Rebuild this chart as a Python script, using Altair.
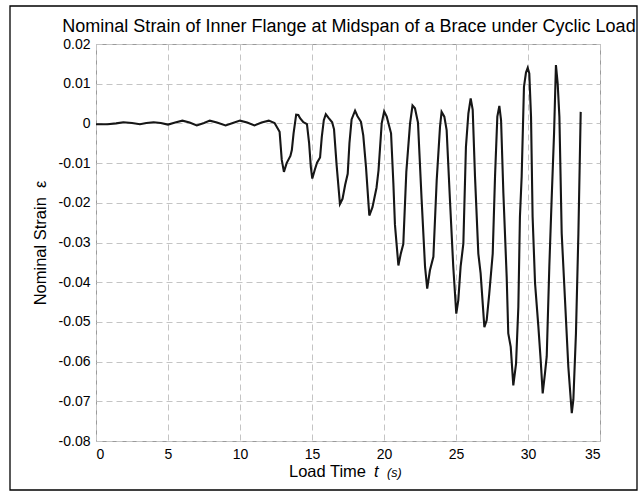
import altair as alt
import pandas as pd

# Load time (s)
time_s = [
    0.0, 0.8, 1.4, 1.9, 2.5, 3.05, 3.5, 4.0, 4.5, 5.0, 5.5, 6.0, 6.5, 7.0, 7.5, 7.9,
    8.4, 9.0, 9.5, 10.0, 10.5, 11.0, 11.5, 12.0, 12.4, 12.75, 12.9, 13.05, 13.24, 13.5,
    13.6, 13.72, 13.9, 14.05, 14.17, 14.4, 14.65, 14.8, 14.92, 15.02, 15.2, 15.35, 15.56,
    15.68, 15.82, 15.96, 16.15, 16.4, 16.53, 16.71, 16.94, 17.12, 17.3, 17.48, 17.6, 17.75,
    17.99, 18.16, 18.4, 18.56, 18.75, 18.98, 19.2, 19.48, 19.62, 19.84, 20.01, 20.19, 20.49,
    20.65, 20.76, 21.0, 21.16, 21.34, 21.55, 21.81, 21.98, 22.15, 22.36, 22.61, 22.85, 23.0,
    23.19, 23.43, 23.66, 23.89, 24.0, 24.19, 24.35, 24.58, 24.81, 25.02, 25.16, 25.32, 25.51,
    25.69, 25.86, 26.02, 26.16, 26.32, 26.55, 26.71, 26.97, 27.13, 27.31, 27.55, 27.71, 27.87,
    28.01, 28.13, 28.29, 28.52, 28.63, 28.80, 28.98, 29.17, 29.33, 29.44, 29.56, 29.72, 29.86,
    29.98, 30.09, 30.21, 30.32, 30.49, 30.72, 30.88, 31.02, 31.18, 31.30, 31.48, 31.64, 31.81,
    31.94, 32.06, 32.18, 32.34, 32.57, 32.80, 33.04, 33.15, 33.33, 33.50, 33.61, 33.66,
]

# Nominal strain
strain = [
    -0.0002, -0.0002, 0.0000, 0.0003, 0.0001, -0.0002, 0.0001, 0.0003, 0.0001, -0.0003, 0.0002,
    0.0007, 0.0002, -0.0005, 0.0001, 0.0007, 0.0002, -0.0005, 0.0001, 0.0007, 0.0002, -0.0005,
    0.0002, 0.0007, 0.0001, -0.0021, -0.0092, -0.0122, -0.0100, -0.0082, -0.0067, -0.0025,
    0.0022, 0.0021, 0.0013, 0.0003, -0.0002, -0.0050, -0.0110, -0.0139, -0.0116, -0.0099,
    -0.0086, -0.0034, 0.0008, 0.0023, 0.0014, 0.0003, -0.0015, -0.0105, -0.0203, -0.0190,
    -0.0155, -0.0127, -0.0050, 0.0010, 0.0032, 0.0018, 0.0004, -0.0030, -0.0110, -0.0232,
    -0.0211, -0.0162, -0.0118, 0.0000, 0.0030, 0.0017, -0.0025, -0.0150, -0.0255, -0.0358,
    -0.0329, -0.0304, -0.0122, 0.0000, 0.0045, 0.0038, 0.0002, -0.0190, -0.0361, -0.0416,
    -0.0370, -0.0336, -0.0143, -0.0008, 0.0029, 0.0017, -0.0017, -0.0193, -0.0361, -0.0479,
    -0.0445, -0.0361, -0.0303, -0.0059, 0.0025, 0.0063, 0.0034, -0.0134, -0.0328, -0.0378,
    -0.0513, -0.0496, -0.0429, -0.0328, -0.0134, 0.0017, 0.0044, 0.0008, -0.0176, -0.0387,
    -0.0529, -0.0563, -0.0660, -0.0605, -0.0462, -0.0235, -0.0134, 0.0092, 0.0128, 0.0140,
    0.0126, 0.0017, -0.0235, -0.0403, -0.0512, -0.0596, -0.0680, -0.0629, -0.0587, -0.0361,
    -0.0193, -0.0025, 0.0147, 0.0101, 0.0017, -0.0277, -0.0445, -0.0613, -0.0730, -0.0696,
    -0.0529, -0.0277, -0.0067, 0.0029,
]

x_ticks = [0, 5, 10, 15, 20, 25, 30, 35]
y_ticks = [0.02, 0.01, 0.0, -0.01, -0.02, -0.03, -0.04, -0.05, -0.06, -0.07, -0.08]

title_text = "Nominal Strain of Inner Flange at Midspan of a Brace under Cyclic Load"
y_title = "Nominal Strain\u00a0\u00a0\u03b5"

FONT = "Liberation Sans"

df = pd.DataFrame({"t": time_s, "strain": strain})
one = pd.DataFrame({"k": [0]})

W, H = 504, 397

line = alt.Chart(df).mark_line(color="#161616", strokeWidth=2.1).encode(
    x=alt.X("t:Q",
            scale=alt.Scale(domain=[0, 35], nice=False, zero=False),
            axis=alt.Axis(values=x_ticks, title=None, format="d")),
    y=alt.Y("strain:Q",
            scale=alt.Scale(domain=[-0.08, 0.02], nice=False, zero=False),
            axis=alt.Axis(values=y_ticks, title=y_title,
                          labelExpr="abs(datum.value) < 1e-9 ? '0' : (datum.value < 0 ? '-' : '') + format(abs(datum.value), '.2f')")),
)

frame = alt.Chart(one).mark_rect(filled=False, stroke="black", strokeWidth=1.3).encode(
    x=alt.value(-86), x2=alt.value(541), y=alt.value(-38), y2=alt.value(446)
)

title_mark = alt.Chart(one).mark_text(align="center", baseline="alphabetic", font=FONT,
                                      fontSize=18, color="black").encode(
    x=alt.value(W / 2 + 1), y=alt.value(-12), text=alt.value(title_text))

xt1 = alt.Chart(one).mark_text(align="left", baseline="alphabetic", font=FONT,
                               fontSize=16.5, color="black").encode(
    x=alt.value(193), y=alt.value(433), text=alt.value("Load Time"))
xt2 = alt.Chart(one).mark_text(align="left", baseline="alphabetic", font=FONT,
                               fontSize=16.5, fontStyle="italic", color="black").encode(
    x=alt.value(278), y=alt.value(433), text=alt.value("t"))
xt3 = alt.Chart(one).mark_text(align="left", baseline="alphabetic", font=FONT,
                               fontSize=12.5, fontStyle="italic", color="black").encode(
    x=alt.value(291), y=alt.value(433), text=alt.value("(s)"))

chart = alt.layer(frame, line, title_mark, xt1, xt2, xt3).properties(
    width=W, height=H,
    autosize=alt.AutoSizeParams(type="none"),
    padding={"left": 96, "top": 44, "right": 41, "bottom": 52},
    background="white",
).configure_view(
    stroke="#9a9a9a", strokeWidth=1
).configure_axis(
    labelFont=FONT, labelFontSize=14, labelColor="black",
    titleFont=FONT, titleFontSize=16.5, titleFontWeight="normal", titleColor="black",
    grid=True, gridColor="#c4c4c4", gridDash=[6, 4], gridWidth=1,
    ticks=False, domain=False, labelPadding=6, titlePadding=10,
)

chart.save("out.html", embed_options={"renderer": "svg", "actions": False})
